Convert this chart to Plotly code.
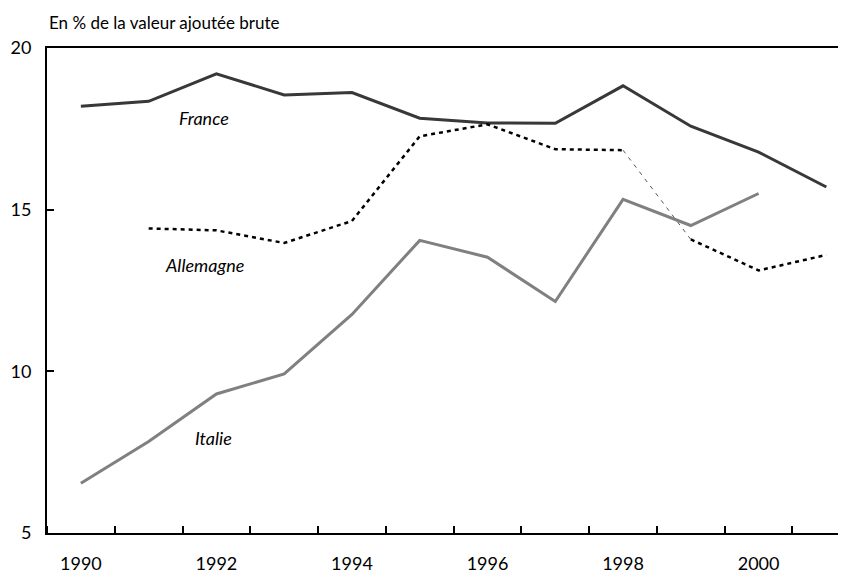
import plotly.graph_objects as go

# Données
annees = list(range(1990, 2002))
france = [18.2, 18.35, 19.2, 18.55, 18.62, 17.83, 17.68, 17.67, 18.83, 17.58, 16.78, 15.7]
allemagne = [None, 14.42, 14.36, 13.97, 14.65, 17.27, 17.64, 16.87, 16.84, 14.08, 13.12, 13.6]
italie = [6.54, 7.83, 9.3, 9.92, 11.76, 14.05, 13.53, 12.16, 15.32, 14.51, 15.5, None]
labels_x = [1990, 1992, 1994, 1996, 1998, 2000]
labels_y = [5, 10, 15, 20]

fig = go.Figure()

fig.add_trace(go.Scatter(x=annees, y=france, mode="lines",
                         line=dict(color="#383838", width=3)))
# Allemagne : pointillés, avec un raccord fin entre 1998 et 1999
fig.add_trace(go.Scatter(x=annees[:9], y=allemagne[:9], mode="lines",
                         line=dict(color="black", width=2.5, dash="4px,4px")))
fig.add_trace(go.Scatter(x=annees[8:10], y=allemagne[8:10], mode="lines",
                         line=dict(color="#555555", width=1, dash="4px,5px")))
fig.add_trace(go.Scatter(x=annees[9:], y=allemagne[9:], mode="lines",
                         line=dict(color="black", width=2.5, dash="4px,4px")))
fig.add_trace(go.Scatter(x=annees, y=italie, mode="lines",
                         line=dict(color="#808080", width=3)))

lab_font = dict(family="Lato", size=18, color="black", style="italic")
fig.add_annotation(x=1991.82, y=17.84, text="France", showarrow=False, font=lab_font)
fig.add_annotation(x=1991.82, y=13.29, text="Allemagne", showarrow=False, font=lab_font)
fig.add_annotation(x=1991.95, y=7.94, text="Italie", showarrow=False, font=lab_font)

fig.add_annotation(xref="paper", yref="paper", x=0, y=1, xanchor="left", yanchor="bottom",
                   yshift=13, text="En % de la valeur ajoutée brute", showarrow=False,
                   font=dict(family="Lato", size=17, color="black"))

# la page html décale la figure de 8 px : marges et taille ajustées en conséquence
fig.update_layout(
    width=838, height=565,
    margin=dict(l=39, r=0, t=40, b=40),
    plot_bgcolor="white", paper_bgcolor="white",
    showlegend=False,
    font=dict(family="Lato", size=18, color="black"),
    xaxis=dict(range=[1989.5, 2001.29], tickvals=labels_x, ticks="",
               showgrid=False, zeroline=False, showline=True, linecolor="black",
               linewidth=2, mirror=True, ticklabelstandoff=13,
               minor=dict(tickmode="linear", tick0=1989.5, dtick=1, ticks="inside",
                          ticklen=7, tickcolor="black", tickwidth=1.5, showgrid=False)),
    yaxis=dict(range=[5, 20], tickvals=labels_y, ticks="inside", ticklen=7,
               tickcolor="black", tickwidth=1.5, showgrid=False, zeroline=False,
               showline=True, linecolor="black", linewidth=2, ticklabelstandoff=10),
)

fig.write_html("out.html")
